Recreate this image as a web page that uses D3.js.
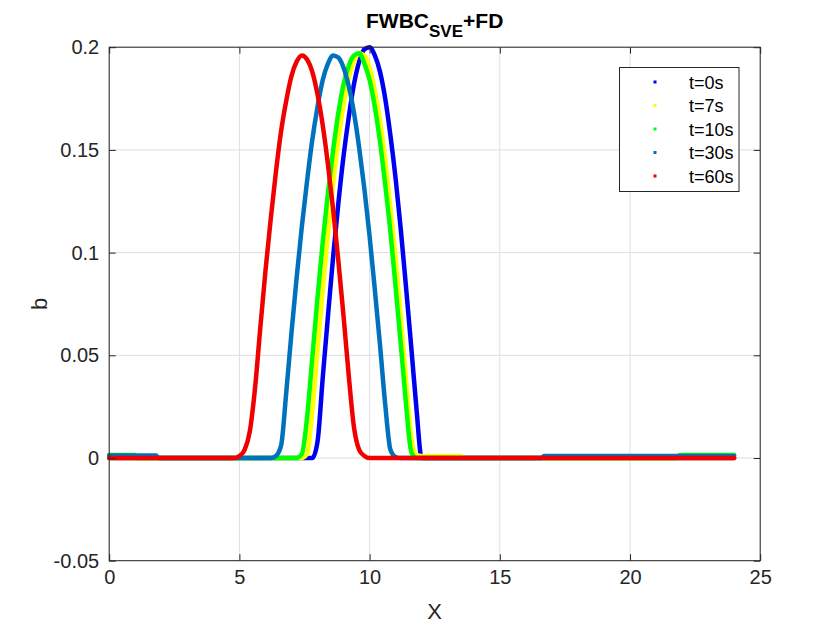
<!DOCTYPE html>
<html><head><meta charset="utf-8">
<script src="https://cdn.jsdelivr.net/npm/d3@7"></script>
<style>body{margin:0;background:#fff}</style>
</head><body>
<svg id="c" width="840" height="630"></svg>
<script>
// ---- data ----
const xGrid = [0, 1.0, 1.1, 1.8, 1.9,
  4.8, 5.0, 5.2, 5.4, 5.6, 5.8, 6.0, 6.2, 6.4, 6.6, 6.8, 7.0, 7.2, 7.4, 7.6, 7.8,
  8.0, 8.2, 8.4, 8.6, 8.8, 9.0, 9.2, 9.4, 9.6, 9.8, 10.0, 10.2, 10.4, 10.6, 10.8,
  11.0, 11.2, 11.4, 11.6, 11.8, 12.0, 12.2, 12.4,
  12.6, 13.5, 13.6, 16.6, 16.7, 21.8, 21.9, 24];

const b_t0 = [0,0,0,0,0,
  0,0,0,0,0,0,0,0,0,0,0,0,0,0,0,0,
  0.008,0.039,0.069,0.098,0.124,0.147,0.166,0.182,0.193,0.199,0.200,0.196,0.188,0.175,0.157,
  0.136,0.111,0.083,0.054,0.024,0,0,0,
  0,0,0,0,0,0,0,0];

const b_t7 = [0,0,0,0,0,
  0,0,0,0,0,0,0,0,0,0,0,0,0,0,0.002,0.023,
  0.053,0.082,0.109,0.134,0.155,0.172,0.185,0.193,0.197,0.196,0.190,0.179,0.164,0.145,0.122,
  0.097,0.068,0.038,0.010,0.0015,0.001,0.001,0.001,
  0.001,0.001,0,0,0,0,0,0];

const b_t10 = [0.0015,0.0015,0,0,0,
  0,0,0,0,0,0,0,0,0,0,0,0,0,0.002,0.020,0.049,
  0.078,0.105,0.129,0.150,0.168,0.182,0.191,0.196,0.197,0.192,0.184,0.171,0.154,0.133,0.110,
  0.083,0.055,0.026,0.003,0,0,0,0,
  0,0,0,0,0,0,0.0015,0.0015];

const b_t30 = [0.0012,0.0012,0.0012,0.0012,0,
  0,0,0,0,0,0,0,0,0.001,0.006,0.032,0.061,0.088,0.113,0.135,0.155,
  0.171,0.184,0.192,0.196,0.195,0.190,0.181,0.168,0.151,0.131,0.108,0.082,0.055,0.026,0.004,
  0.0005,0,0,0,0,0,0,0,
  0,0,0,0,0.001,0.001,0.001,0.001];

const b_t60 = [0,0,0,0,0,
  0,0.001,0.004,0.013,0.034,0.063,0.091,0.116,0.139,0.159,0.174,0.186,0.193,0.196,0.194,0.188,
  0.177,0.162,0.143,0.121,0.096,0.069,0.040,0.015,0.004,0.001,0,0,0,0,0,
  0,0,0,0,0,0,0,0,
  0,0,0,0,0,0,0,0];

const seriesNames = ["t=0s","t=7s","t=10s","t=30s","t=60s"];
const seriesValues = [b_t0, b_t7, b_t10, b_t30, b_t60];
const xTicks = [0,5,10,15,20,25];
const xTickLabels = ["0","5","10","15","20","25"];
const yTicks = [-0.05,0,0.05,0.1,0.15,0.2];
const yTickLabels = ["-0.05","0","0.05","0.1","0.15","0.2"];

// ---- styles ----
const colors = ["#0000f0","#ffff00","#00ff00","#0072bd","#f00000"];
const FONT = "'Liberation Sans', Arial, Helvetica, sans-serif";
const axisColor = "#262626";
const gridColor = "#dfdfdf";

const L = 109.2, R = 760.2, T = 47.2, B = 560.7;
const svg = d3.select("#c").style("font-family", FONT);
svg.append("rect").attr("width",840).attr("height",630).attr("fill","#fff");

const x = d3.scaleLinear().domain([0,25]).range([L,R]);
const y = d3.scaleLinear().domain([-0.05,0.2]).range([B,T]);

// grid
const g = svg.append("g");
g.selectAll(".gx").data(xTicks).enter().append("line")
  .attr("x1",d=>x(d)).attr("x2",d=>x(d)).attr("y1",T).attr("y2",B)
  .attr("stroke",gridColor).attr("stroke-width",1);
g.selectAll(".gy").data(yTicks).enter().append("line")
  .attr("y1",d=>y(d)).attr("y2",d=>y(d)).attr("x1",L).attr("x2",R)
  .attr("stroke",gridColor).attr("stroke-width",1);

// curves
const line = d3.line()
  .x((d,i)=>x(xGrid[i]))
  .y(d=>y(d))
  .curve(d3.curveMonotoneX);
seriesValues.forEach((vals,k)=>{
  svg.append("path").attr("d", line(vals))
    .attr("fill","none").attr("stroke",colors[k])
    .attr("stroke-width",4.5).attr("stroke-linejoin","round").attr("stroke-linecap","round");
});

// axes
const tick = 6.5;
function styleAxis(sel){
  sel.select(".domain").remove();
  sel.selectAll(".tick line").attr("stroke",axisColor);
  sel.selectAll(".tick text").attr("fill",axisColor).style("font-size","20px").style("font-family",FONT);
}
svg.append("g").attr("transform",`translate(0,${B})`)
  .call(d3.axisBottom(x).tickValues(xTicks).tickFormat((d,i)=>xTickLabels[i]).tickSizeInner(-tick).tickSizeOuter(0).tickPadding(9))
  .call(styleAxis);
svg.append("g").attr("transform",`translate(0,${T})`)
  .call(d3.axisTop(x).tickValues(xTicks).tickFormat("").tickSizeInner(-tick).tickSizeOuter(0))
  .call(styleAxis);
svg.append("g").attr("transform",`translate(${L},0)`)
  .call(d3.axisLeft(y).tickValues(yTicks).tickFormat((d,i)=>yTickLabels[i]).tickSizeInner(-tick).tickSizeOuter(0).tickPadding(10))
  .call(styleAxis);
svg.append("g").attr("transform",`translate(${R},0)`)
  .call(d3.axisRight(y).tickValues(yTicks).tickFormat("").tickSizeInner(-tick).tickSizeOuter(0))
  .call(styleAxis);

svg.append("rect").attr("x",L).attr("y",T).attr("width",R-L).attr("height",B-T)
  .attr("fill","none").attr("stroke",axisColor).attr("stroke-width",1);

// labels
svg.append("text").attr("x",(L+R)/2).attr("y",619).attr("text-anchor","middle")
  .attr("fill",axisColor).style("font-size","22px").text("X");
svg.append("text").attr("transform",`translate(47,${(T+B)/2}) rotate(-90)`).attr("text-anchor","middle")
  .attr("fill",axisColor).style("font-size","22px").text("b");

const title = svg.append("text").attr("x",(L+R)/2).attr("y",28).attr("text-anchor","middle")
  .attr("fill","#000").style("font-size","21px").style("font-weight","bold");
title.append("tspan").text("FWBC");
title.append("tspan").attr("dy",9).style("font-size","17px").text("SVE");
title.append("tspan").attr("dy",-9).text("+FD");

// legend
const lg = svg.append("g");
lg.append("rect").attr("x",619.5).attr("y",67.5).attr("width",119.5).attr("height",124)
  .attr("fill","#fff").attr("stroke",axisColor).attr("stroke-width",1);
seriesNames.forEach((name,k)=>{
  const cy = 82 + k*23.5;
  lg.append("rect").attr("x",653.5).attr("y",cy-1.5).attr("width",3).attr("height",3).attr("fill",colors[k]);
  lg.append("text").attr("x",689).attr("y",cy+6.5).attr("fill","#000").style("font-size","18px").text(name);
});
</script>
</body></html>
